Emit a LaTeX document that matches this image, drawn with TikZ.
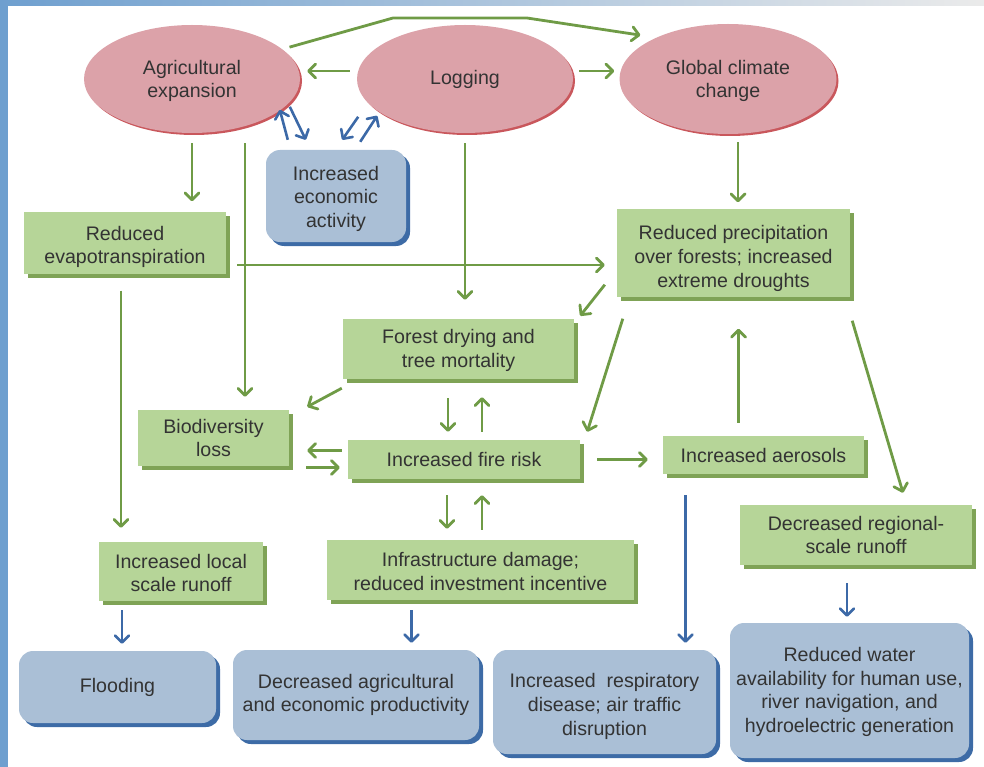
\documentclass[tikz,border=0pt]{standalone}
\usepackage{fontspec}
\setmainfont{Liberation Sans}
\usetikzlibrary{shapes.geometric,shadows,arrows.meta}
\definecolor{bgblue}{HTML}{6E9FCF}
\definecolor{causepink}{HTML}{DCA2A9}
\definecolor{causered}{HTML}{C9575C}
\definecolor{effgreen}{HTML}{B6D598}
\definecolor{effshadow}{HTML}{7FA356}
\definecolor{impblue}{HTML}{AABFD6}
\definecolor{impshadow}{HTML}{3D6BA6}
\definecolor{arrgreen}{HTML}{6F9B46}
\definecolor{arrblue}{HTML}{3C69A7}
\definecolor{txtgray}{HTML}{333333}
\newcommand\dropline[1]{\rule{0pt}{#1}}
\tikzset{
  cause/.style={ellipse, fill=causepink, inner sep=0pt, align=center,
    general shadow={fill=causered, shadow xshift=2pt, shadow yshift=-2pt}},
  effect/.style={rectangle, fill=effgreen, align=center,
    general shadow={fill=effshadow, shadow xshift=4pt, shadow yshift=-4pt}},
  impact/.style={rectangle, rounded corners=14pt, fill=impblue, align=center,
    general shadow={fill=impshadow, shadow xshift=4pt, shadow yshift=-4pt}},
  garr/.style={->, draw=arrgreen, line width=2.8pt},
  barr/.style={->, draw=arrblue, line width=2.6pt}
}
\begin{document}
\begin{tikzpicture}[x=1pt,y=-1pt,>={Straight Barb[length=7pt,width=14pt,round]},
  font=\fontsize{19.6}{23.8}\selectfont, text=txtgray]
\useasboundingbox (0,0) rectangle (984,767);
\fill[bgblue] (0,0) rectangle (8,767);
\shade[left color=bgblue, right color=black!8] (0,0) rectangle (984,6);

\node[cause, minimum width=216pt, minimum height=108pt] (agri) at (192,79) {\dropline{18pt}Agricultural\\expansion};
\node[cause, minimum width=216pt, minimum height=108pt] (logging) at (465,79) {Logging};
\node[cause, minimum width=217pt, minimum height=110pt] (gcc) at (728,79) {\dropline{18pt}Global climate\\change};

\node[effect, minimum width=202pt, minimum height=61pt] (evap) at (125,243) {\dropline{22pt}Reduced\\evapotranspiration};
\node[effect, minimum width=233pt, minimum height=87pt] (precip) at (733.5,253) {\dropline{25pt}Reduced precipitation\\over forests; increased\\extreme droughts};
\node[effect, minimum width=231pt, minimum height=60pt] (forest) at (458.5,349) {\dropline{17pt}Forest drying and\\tree mortality};
\node[effect, minimum width=151pt, minimum height=56pt] (biodiv) at (213.5,438) {Biodiversity\\loss};
\node[effect, minimum width=232pt, minimum height=39pt] (fire) at (464,459.5) {Increased fire risk};
\node[effect, minimum width=201pt, minimum height=38pt] (aerosols) at (763.5,455) {Increased aerosols};
\node[effect, minimum width=232pt, minimum height=60pt] (regional) at (856,535) {Decreased regional-\\scale runoff};
\node[effect, minimum width=164pt, minimum height=59pt] (local) at (181,571.5) {\dropline{17pt}Increased local\\scale runoff};
\node[effect, minimum width=307pt, minimum height=60pt] (infra) at (480.5,570) {\dropline{17pt}Infrastructure damage;\\reduced investment incentive};

\node[impact, minimum width=140pt, minimum height=92pt] (econ) at (336,196) {\dropline{20pt}Increased\\economic\\activity};
\node[impact, minimum width=197pt, minimum height=72pt] (flood) at (117.5,687) {Flooding};
\node[impact, minimum width=246pt, minimum height=90pt] (agriprod) at (356,695) {Decreased agricultural\\and economic productivity};
\node[impact, minimum width=223pt, minimum height=104pt] (resp) at (604.5,702) {\dropline{23pt}Increased~ respiratory\\disease; air traffic\\disruption};
\node[impact, minimum width=239pt, minimum height=135pt] (water) at (849.5,690.5) {\dropline{17pt}Reduced water\\availability for human use,\\river navigation, and\\hydroelectric generation};

\coordinate (bendL) at (393,18);
\coordinate (bendR) at (527,18);
\draw[garr, shorten >=16pt] ([xshift=10pt]agri.20) -- (bendL) -- (bendR) -- (gcc.150);
\draw[garr, shorten <=7pt, shorten >=7pt] ([yshift=8pt]logging.west) -- ([yshift=8pt]agri.east);
\draw[garr, shorten <=6pt, shorten >=5pt] ([yshift=8pt]logging.east) -- ([yshift=8pt]gcc.west);

\draw[barr] ([shift={(22pt,10pt)}]econ.north west) -- ([shift={(14pt,40pt)}]econ.north west);
\draw[barr] ([shift={(24pt,43pt)}]econ.north west) -- ([shift={(40pt,10pt)}]econ.north west);
\draw[barr] ([shift={(-48pt,33pt)}]econ.north east) -- ([shift={(-64pt,10pt)}]econ.north east);
\draw[barr] ([shift={(-46pt,8pt)}]econ.north east) -- ([shift={(-29pt,34pt)}]econ.north east);

\draw[garr, shorten <=10pt, shorten >=11pt] (agri.south) -- (agri.south |- evap.north);
\draw[garr, shorten <=10pt, shorten >=13pt] ([xshift=53pt]agri.south) -- ([xshift=53pt]agri.south |- biodiv.north);
\draw[garr, shorten <=10pt, shorten >=19pt] (logging.south) -- (logging.south |- forest.north);
\draw[garr, shorten <=8pt, shorten >=7pt] ([xshift=10pt]gcc.south) -- ([xshift=10pt]gcc.south |- precip.north);
\draw[garr, shorten <=11pt, shorten >=12pt] ([yshift=-22pt]evap.east) -- ([yshift=-22pt]evap.east -| precip.west);
\draw[garr, shorten <=17pt, shorten >=14pt] ([xshift=-4pt]evap.south) -- ([xshift=-4pt]evap.south |- local.north);
\draw[garr] ([shift={(-12pt,12pt)}]precip.south west) -- ([shift={(6pt,3pt)}]forest.north east);
\draw[garr] ([shift={(6pt,-22pt)}]precip.south west) -- ([shift={(7pt,8pt)}]fire.north east);
\draw[garr] ([shift={(2pt,-24pt)}]precip.south east) -- ([shift={(47pt,12pt)}]regional.north);
\draw[garr, shorten <=13pt, shorten >=32pt] ([xshift=-25pt]aerosols.north) -- ([xshift=-25pt]aerosols.north |- precip.south);
\draw[garr] ([shift={(-1pt,-9pt)}]forest.south west) -- ([shift={(18pt,3pt)}]biodiv.north east);
\draw[garr, shorten <=19pt, shorten >=8pt] ([xshift=-16pt]fire.north |- forest.south) -- ([xshift=-16pt]fire.north);
\draw[garr, shorten <=8pt, shorten >=18pt] ([xshift=18pt]fire.north) -- ([xshift=18pt]fire.north |- forest.south);
\draw[garr, shorten <=6pt, shorten >=18pt] ([yshift=9pt]fire.west) -- ([yshift=9pt]fire.west -| biodiv.east);
\draw[garr, shorten <=17pt, shorten >=8pt] ([yshift=-8pt]fire.west -| biodiv.east) -- ([yshift=-8pt]fire.west);
\draw[garr, shorten <=17pt, shorten >=15pt] (fire.east) -- (fire.east -| aerosols.west);
\draw[garr, shorten <=16pt, shorten >=11pt] ([xshift=-17pt]fire.south) -- ([xshift=-17pt]fire.south |- infra.north);
\draw[garr, shorten <=10pt, shorten >=16pt] ([xshift=18pt]fire.south |- infra.north) -- ([xshift=18pt]fire.south);

\draw[barr, shorten <=21pt, shorten >=7pt] ([xshift=-78pt]aerosols.south) -- ([xshift=-78pt]aerosols.south |- resp.north);
\draw[barr, shorten <=18pt, shorten >=6pt] ([xshift=-9pt]regional.south) -- ([xshift=-9pt]regional.south |- water.north);
\draw[barr, shorten <=9pt, shorten >=7pt] ([xshift=-59pt]local.south) -- ([xshift=-59pt]local.south |- flood.north);
\draw[barr, shorten <=10pt, shorten >=7pt] ([xshift=-69pt]infra.south) -- ([xshift=-69pt]infra.south |- agriprod.north);
\end{tikzpicture}
\end{document}
